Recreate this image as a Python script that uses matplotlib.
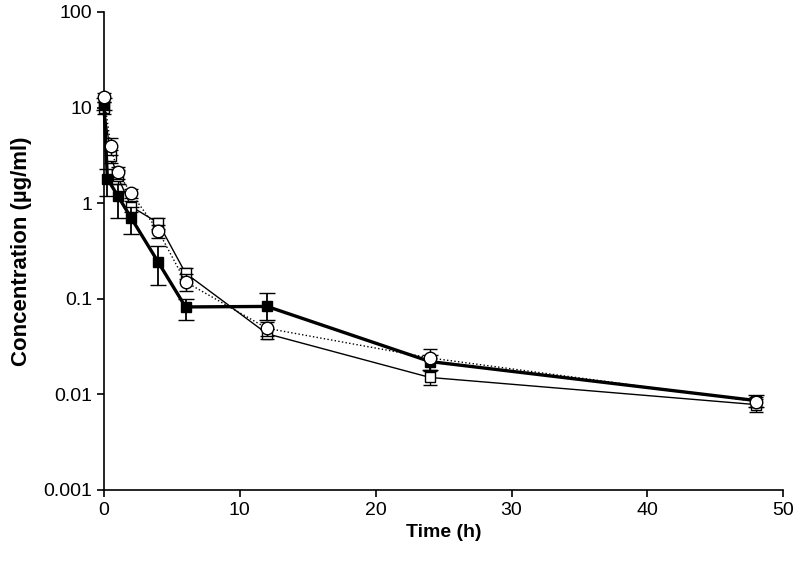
import matplotlib
matplotlib.use("Agg")
import matplotlib.pyplot as plt

plt.rcParams['font.family'] = ['Liberation Sans', 'DejaVu Sans']

# filled squares, thick line
t_fill = [0, 0.25, 1, 2, 4, 6, 12, 24, 48]
c_fill = [11, 1.8, 1.2, 0.7, 0.24, 0.082, 0.083, 0.022, 0.0086]
e_fill_lo = [1.5, 0.6, 0.5, 0.22, 0.1, 0.022, 0.023, 0.004, 0.0012]
e_fill_hi = [1.5, 0.5, 0.4, 0.2, 0.12, 0.018, 0.032, 0.004, 0.0012]

# open squares, thin line
t_sq = [0, 0.5, 1, 2, 4, 6, 12, 24, 48]
c_sq = [10, 3.1, 1.9, 0.92, 0.62, 0.185, 0.043, 0.015, 0.0078]
e_sq = [1.5, 0.5, 0.3, 0.12, 0.08, 0.025, 0.005, 0.0025, 0.0012]

# open circles, dotted line
t_ci = [0, 0.5, 1, 2, 4, 6, 12, 24, 48]
c_ci = [12.8, 3.95, 2.1, 1.27, 0.51, 0.15, 0.049, 0.024, 0.0084]
e_ci = [1.5, 0.8, 0.3, 0.15, 0.08, 0.03, 0.008, 0.006, 0.001]

fig = plt.figure(figsize=(8, 5.67), dpi=100)
ax = fig.add_axes([0.13, 0.136, 0.849, 0.843])

series = [
    (t_sq, c_sq, e_sq, dict(lw=1, ls='-', marker='s', ms=7.5, mfc='white',
                            capsize=5, elinewidth=1), 2),
    (t_fill, c_fill, [e_fill_lo, e_fill_hi], dict(lw=2.4, ls='-', marker='s', ms=7.5,
                                                  mfc='black', capsize=6, elinewidth=1.3), 3),
    (t_ci, c_ci, e_ci, dict(lw=1, ls=':', marker='o', ms=9, mfc='white',
                            capsize=5, elinewidth=1), 4),
]
for t, c, e, kw, z in series:
    eb = ax.errorbar(t, c, yerr=e, color='black', mec='black', zorder=z, **kw)
    arts = [eb.lines[0]] + list(eb.lines[1]) + list(eb.lines[2])
    for art in arts:
        art.set_clip_on(False)

ax.set_yscale('log')
ax.set_ylim(0.001, 100)
ax.set_xlim(0, 50)
ax.set_yticks([0.001, 0.01, 0.1, 1, 10, 100])
ax.set_yticklabels(['0.001', '0.01', '0.1', '1', '10', '100'])
ax.set_xticks([0, 10, 20, 30, 40, 50])
ax.minorticks_off()
ax.spines['top'].set_visible(False)
ax.spines['right'].set_visible(False)
ax.spines['left'].set_linewidth(1.2)
ax.spines['bottom'].set_linewidth(1.2)
ax.tick_params(direction='out', length=5, width=1.2, labelsize=14)
ax.set_xlabel('Time (h)', fontsize=14, fontweight='bold')
ax.set_ylabel('Concentration (µg/ml)', fontsize=16, fontweight='bold', labelpad=8)

fig.savefig('out.png', dpi=100)
